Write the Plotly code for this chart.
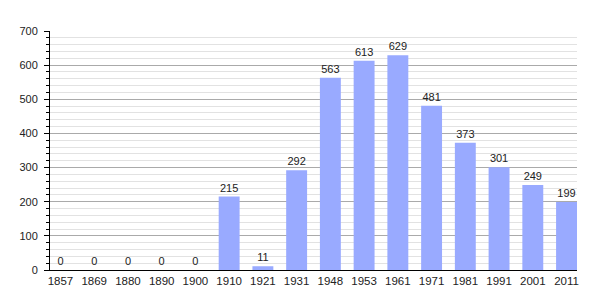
import plotly.graph_objects as go

years = ["1857", "1869", "1880", "1890", "1900", "1910", "1921", "1931",
         "1948", "1953", "1961", "1971", "1981", "1991", "2001", "2011"]
population = [0, 0, 0, 0, 0, 215, 11, 292, 563, 613, 629, 481, 373, 301, 249, 199]

xpos = list(range(len(years)))

fig = go.Figure(
    go.Bar(
        x=xpos,
        y=population,
        width=0.62,
        marker=dict(color="#99AAFF", line=dict(width=0)),
        text=[str(v) for v in population],
        textposition="outside",
        textfont=dict(family="Liberation Sans, Arial, sans-serif", size=11, color="#222222"),
        cliponaxis=False,
    )
)

fig.update_layout(
    width=605,
    height=300,
    margin=dict(l=50, r=28, t=31, b=30),
    paper_bgcolor="white",
    plot_bgcolor="white",
    showlegend=False,
    font=dict(family="Liberation Sans, Arial, sans-serif", size=11, color="#222222"),
    xaxis=dict(
        range=[-0.31, len(years) - 1 + 0.31],
        tickmode="array",
        tickvals=xpos,
        ticktext=years,
        showline=True,
        linecolor="black",
        linewidth=1,
        ticks="",
        showgrid=False,
        zeroline=False,
        tickfont=dict(size=11.5),
    ),
    yaxis=dict(
        range=[0, 700],
        dtick=100,
        showline=True,
        linecolor="black",
        linewidth=1,
        ticks="outside",
        ticklen=5,
        tickcolor="black",
        ticklabelstandoff=4,
        showgrid=True,
        gridcolor="#aaaaaa",
        gridwidth=1,
        zeroline=False,
        tickfont=dict(size=11),
        minor=dict(
            dtick=20,
            showgrid=True,
            gridcolor="#e2e2e2",
            ticks="outside",
            ticklen=3,
            tickcolor="black",
        ),
    ),
)

fig.write_html("out.html")
